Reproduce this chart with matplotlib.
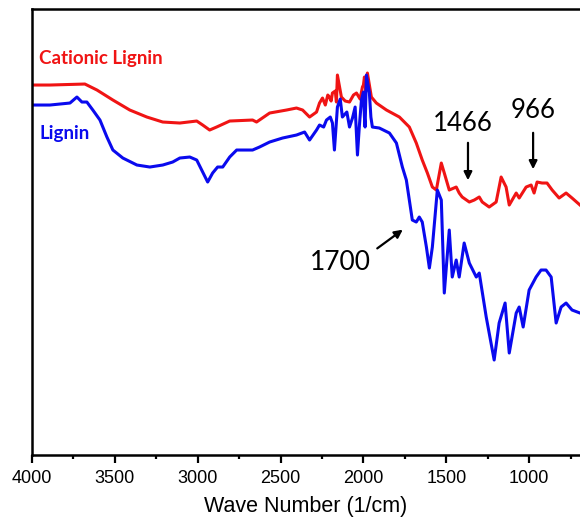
"""FTIR spectra of lignin and cationic lignin."""
import matplotlib.pyplot as plt

# Cationic lignin trace (wavenumber, transmittance a.u.)
cationic_wn = [4000, 3892, 3681, 3608, 3512, 3410, 3307, 3211, 3108, 3006, 2970, 2928,
               2886, 2807, 2669, 2645, 2566, 2464, 2404, 2367, 2325, 2283, 2265, 2247,
               2230, 2215, 2205, 2195, 2187, 2170, 2163, 2157, 2133, 2110, 2084, 2060,
               2042, 2020, 2006, 2000, 1994, 1985, 1976, 1952, 1922,
               1861, 1783, 1723, 1681, 1645, 1614, 1584, 1560, 1530, 1512, 1482, 1440,
               1422, 1404, 1361, 1331, 1301, 1283, 1241, 1199, 1169, 1139, 1120, 1078,
               1060, 1018, 988, 970, 952, 922, 892, 861, 819, 777, 741, 693]
cationic_t = [372, 372, 373, 367, 357, 347, 340, 335, 334, 336, 332, 327,
              330, 336, 337, 335, 344, 347, 349, 347, 340, 345, 354, 359,
              352, 362, 360, 356, 364, 366, 355, 382, 360, 356, 355, 362,
              364, 358, 370, 372, 380, 366, 384, 360, 354,
              347, 340, 330, 314, 297, 284, 270, 267, 294, 284, 267, 270,
              264, 260, 255, 257, 260, 255, 250, 255, 280, 270, 252, 264,
              259, 270, 272, 264, 275, 274, 274, 267, 259, 264, 259, 252]

# Lignin trace
lignin_wn = [4000, 3892, 3771, 3729, 3699, 3669, 3633, 3590, 3548, 3512, 3452, 3367,
             3289, 3211, 3151, 3108, 3048, 3006, 2976, 2940, 2910, 2880, 2849, 2807,
             2765, 2669, 2627, 2566, 2488, 2404, 2355, 2325, 2283, 2265, 2240, 2223,
             2200, 2187, 2175, 2157, 2140, 2127, 2100, 2084, 2066, 2050, 2036, 2025,
             2012, 2000, 1994, 1990, 1982, 1970, 1964, 1955, 1946, 1904,
             1843, 1801, 1765, 1741, 1723, 1705, 1681, 1663, 1645, 1620, 1602, 1584,
             1554, 1530, 1512, 1482, 1464, 1440, 1422, 1392, 1361, 1319, 1301, 1259,
             1211, 1181, 1145, 1120, 1078, 1060, 1036, 1000, 958, 928, 898, 867,
             837, 807, 777, 741, 693]
lignin_t = [352, 352, 354, 360, 355, 355, 347, 337, 320, 307, 299, 292,
            290, 292, 295, 299, 300, 297, 287, 275, 284, 290, 290, 300,
            307, 307, 310, 315, 319, 322, 325, 317, 327, 332, 330, 337,
            340, 334, 307, 350, 358, 340, 345, 330, 339, 350, 302, 330,
            357, 365, 340, 330, 382, 370, 364, 340, 330, 329,
            324, 314, 290, 277, 257, 237, 235, 240, 235, 210, 189, 210,
            267, 257, 164, 227, 180, 197, 180, 214, 194, 180, 184, 140,
            97, 134, 154, 104, 144, 150, 130, 167, 180, 187, 187, 180,
            134, 150, 154, 147, 144]

xticks = [4000, 3500, 3000, 2500, 2000, 1500, 1000]

fig = plt.figure(figsize=(5.8, 5.25), dpi=100)
ax = fig.add_axes([0.0552, 0.1333, 0.9448, 0.8495])

ax.plot(cationic_wn, cationic_t, color="#f01414", lw=2.2, solid_joinstyle="round")
ax.plot(lignin_wn, lignin_t, color="#0a0aee", lw=2.2, solid_joinstyle="round")

ax.set_xlim(4000, 693)
ax.set_ylim(2, 448)
ax.set_xticks(xticks)
ax.set_xticks([3750, 3250, 2750, 2250, 1750, 1250, 750], minor=True)
ax.set_yticks([])
ax.tick_params(axis="x", which="major", length=6, width=1.6, direction="out", pad=5,
               labelsize=13)
ax.tick_params(axis="x", which="minor", length=3, width=1.6, direction="out")
for lbl in ax.get_xticklabels():
    lbl.set_fontfamily("Liberation Sans")
for side in ["left", "bottom", "top"]:
    ax.spines[side].set_linewidth(1.8)
ax.spines["right"].set_visible(False)

ax.set_xlabel("Wave Number (1/cm)", fontsize=15.5, family="Liberation Sans", labelpad=6)

ax.text(3958, 399, "Cationic Lignin", color="#f01414", fontsize=13.5, fontweight="bold",
        family="Lato", va="center", ha="left")
ax.text(3952, 324, "Lignin", color="#0a0aee", fontsize=13.5, fontweight="bold",
        family="Lato", va="center", ha="left")

arrow = dict(arrowstyle="-|>", color="black", lw=1.6, mutation_scale=12)
ax.annotate("", xy=(1369, 274), xytext=(1369, 317), arrowprops=arrow)
ax.annotate("", xy=(976, 285), xytext=(976, 327), arrowprops=arrow)
ax.annotate("", xy=(1749, 229), xytext=(1930, 207), arrowprops=arrow)
ax.text(1399, 334, "1466", fontsize=18.5, family="Lato", ha="center", va="center")
ax.text(976, 347, "966", fontsize=18.5, family="Lato", ha="center", va="center")
ax.text(2141, 195, "1700", fontsize=19, family="Lato", ha="center", va="center")

fig.savefig("out.png", dpi=100)
